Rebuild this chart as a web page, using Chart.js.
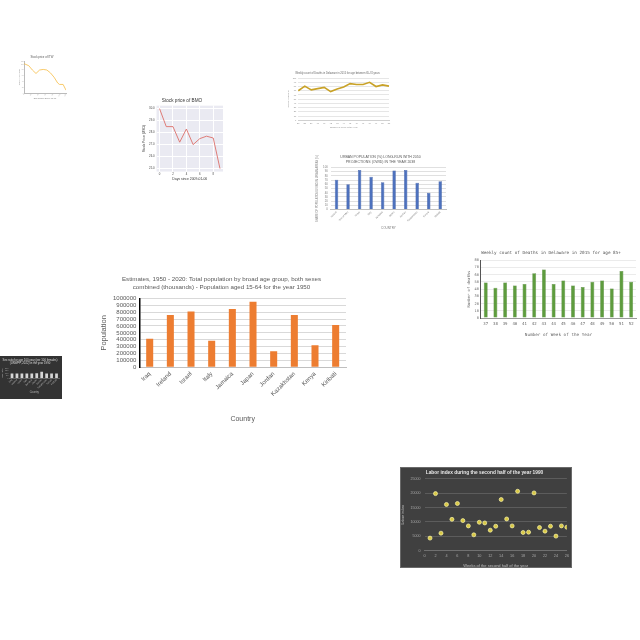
<!DOCTYPE html>
<html><head><meta charset="utf-8">
<script src="https://cdn.jsdelivr.net/npm/chart.js@4.4.1/dist/chart.umd.min.js"></script>
<style>
html,body{margin:0;padding:0;background:#fff;width:640px;height:640px;overflow:hidden;position:relative}
canvas{position:absolute;display:block}
</style></head><body>
<script>
// ---- data ----
const bigCountries = ['Iraq','Ireland','Israel','Italy','Jamaica','Japan','Jordan','Kazakhstan','Kenya','Kiribati'];
const bigValues = [415000,760000,810000,385000,845000,950000,235000,760000,320000,615000];
const bigYTicks = [0,1000000,100000];

const delWeeks = ['37','38','39','40','41','42','43','44','45','46','47','48','49','50','51','52'];
const delDeaths = [49,42,49,45,47,62,67,47,52,45,43,50,52,41,65,50];

const laborWeeks = [1,2,3,4,5,6,7,8,9,10,11,12,13,14,15,16,17,18,19,20,21,22,23,24,25,26];
const laborIndex = [4360,19840,6080,16060,10890,16400,10440,8600,5500,9860,9630,7110,8490,17780,11010,8600,20640,6310,6420,20070,8030,6770,8490,5050,8600,8140];

const urbanCountries = ['Ireland','Isle of Man','Israel','Italy','Jamaica','Japan','Jordan','Kazakhstan','Kenya','Kiribati'];
const urbanValues = [71,60,94,78,65,93,94,64,40,67];

const lineWeeks = ['37','38','39','40','41','42','43','44','45','46','47','48','49','50','51'];
const lineDeaths = [70,81,72,75,78,68,74,79,87,85,85,90,80,84,81];

const bmoDays = [0,1,2,3,4,5,6,7,8,9];
const bmoPrice = [30.0,28.5,28.5,27.2,28.3,27.0,27.5,27.7,27.55,25.0];

const itwDays = [0,13,23,33,43,53,63,73,83,93,98,108,116];
const itwPrice = [102,95,80,68,80,82,80,70,55,35,30,30,10];

const darkCats = ['Iraq','Ireland','Israel','Italy','Jamaica','Japan','Jordan','Kazakhstan','Kenya','Kiribati'];
const darkValues = [92,92,92,92,92,96,125,92,92,92];

// ---- setup ----
Chart.defaults.animation = false;
Chart.defaults.devicePixelRatio = 1;
Chart.defaults.plugins.legend.display = false;
Chart.defaults.plugins.tooltip.enabled = false;
Chart.defaults.font.family = "'Liberation Sans', Arial, sans-serif";
const MONO = "'DejaVu Sans Mono', monospace";

function mk(x,y,w,h){
  const c=document.createElement('canvas');
  c.width=w;c.height=h;
  c.style.left=x+'px';c.style.top=y+'px';c.style.width=w+'px';c.style.height=h+'px';
  document.body.appendChild(c);
  return c.getContext('2d');
}
const bgPlugin={id:'bg',beforeDraw(chart,args,opts){
  const ctx=chart.ctx;ctx.save();
  if(opts.canvas){ctx.fillStyle=opts.canvas;ctx.fillRect(0,0,chart.width,chart.height);}
  if(opts.frame){ctx.strokeStyle=opts.frame;ctx.lineWidth=1;ctx.strokeRect(0.5,0.5,chart.width-1,chart.height-1);}
  if(opts.area){const a=chart.chartArea;ctx.fillStyle=opts.area;ctx.fillRect(a.left,a.top,a.right-a.left,a.bottom-a.top);}
  ctx.restore();
}};
Chart.register(bgPlugin);
const base={responsive:false,maintainAspectRatio:false};
const plain=v=>String(v);
const noGridX={display:false,drawTicks:false};

// ---- big orange bar chart ----
new Chart(mk(92,270,270,158),{type:'bar',
 data:{labels:bigCountries,datasets:[{data:bigValues,backgroundColor:'#ED7D31',barPercentage:0.34,categoryPercentage:1}]},
 options:{...base,layout:{padding:{left:5,right:16,top:0,bottom:1}},
  plugins:{title:{display:true,text:['Estimates, 1950 - 2020: Total population by broad age group, both sexes','combined (thousands) - Population aged 15-64 for the year 1950'],color:'#595959',font:{size:6.2,lineHeight:1.32,weight:'normal'},padding:{top:5,bottom:7}}},
  scales:{
   x:{grid:noGridX,border:{color:'#bfbfbf'},ticks:{color:'#595959',font:{size:6},maxRotation:45,minRotation:45,autoSkip:false,padding:3},
      title:{display:true,text:'Country',color:'#595959',font:{size:7},padding:{top:14}}},
   y:{min:bigYTicks[0],max:bigYTicks[1],ticks:{stepSize:bigYTicks[2],color:'#595959',font:{size:6},padding:3,autoSkip:false,callback:plain},grid:{color:'#d9d9d9',drawTicks:false},
      border:{color:'#000',width:1.5},title:{display:true,text:'Population',color:'#595959',font:{size:7.5},padding:2}}}}});

// ---- Delaware green bars ----
new Chart(mk(466,246,174,97),{type:'bar',
 data:{labels:delWeeks,datasets:[{data:delDeaths,backgroundColor:'#5e9c3e',borderColor:'#447a2a',borderWidth:0.5,barPercentage:0.4,categoryPercentage:1}]},
 options:{...base,layout:{padding:{left:0,right:4,top:0,bottom:2}},
  plugins:{title:{display:true,text:'Weekly count of Deaths in Delaware in 2015 for age 85+',color:'#555',font:{family:MONO,size:4.3,weight:'normal'},padding:{top:4,bottom:5}}},
  scales:{
   x:{grid:noGridX,border:{color:'#999'},ticks:{color:'#666',font:{family:MONO,size:4},maxRotation:0,autoSkip:false,padding:4},
      title:{display:true,text:'Number of Week of the Year',color:'#666',font:{family:MONO,size:4.3},padding:{top:1}}},
   y:{min:0,max:80,ticks:{stepSize:10,color:'#666',font:{family:MONO,size:3.6},padding:2,autoSkip:false},grid:{color:'#ebebeb',drawTicks:false},
      border:{color:'#555',width:1},title:{display:true,text:'Number of deaths',color:'#666',font:{family:MONO,size:3.8},padding:1}}}}});

// ---- Labor index scatter ----
new Chart(mk(400,467,172,101),{type:'scatter',
 data:{datasets:[{data:laborWeeks.map((w,i)=>({x:w,y:laborIndex[i]})),backgroundColor:'#d9c845',borderColor:'rgba(250,245,170,0.7)',borderWidth:1,pointRadius:2}]},
 options:{...base,layout:{padding:{left:0,right:3,top:0,bottom:0}},
  plugins:{bg:{canvas:'#404040',frame:'#6a6a6a'},
   title:{display:true,text:'Labor index during the second half of the year 1990',color:'#e8e8e8',font:{size:4.8,weight:'bold'},padding:{top:3,bottom:3}}},
  scales:{
   x:{type:'linear',min:0,max:26,grid:noGridX,border:{color:'#707070'},ticks:{stepSize:2,color:'#a6a6a6',font:{size:3.8},padding:3,maxRotation:0,autoSkip:false},
      title:{display:true,text:'Weeks of the second half of the year',color:'#bfbfbf',font:{size:4},padding:{top:2,bottom:0}}},
   y:{min:0,max:25000,grid:{color:'#5c5c5c',drawTicks:false},border:{display:false},ticks:{stepSize:5000,color:'#a6a6a6',font:{size:3.6},padding:4,autoSkip:false,callback:plain},
      title:{display:true,text:'Labor index',color:'#bfbfbf',font:{size:3.8},padding:1}}}}});

// ---- Urban population bars ----
new Chart(mk(312,152,135,84),{type:'bar',
 data:{labels:urbanCountries,datasets:[{data:urbanValues,backgroundColor:'#4d71bd',borderColor:'#35539a',borderWidth:0.5,barPercentage:0.3,categoryPercentage:1}]},
 options:{...base,layout:{padding:{left:3,right:1,top:0,bottom:2}},
  plugins:{title:{display:true,text:['URBAN POPULATION (%) LONG-RUN WITH 2050','PROJECTIONS (OWID) IN THE YEAR 2038'],color:'#595959',font:{size:3.5,lineHeight:1.35,weight:'normal'},padding:{top:3,bottom:3}}},
  scales:{
   x:{grid:noGridX,border:{color:'#bfbfbf'},ticks:{color:'#7f7f7f',font:{size:2.6},maxRotation:45,minRotation:45,autoSkip:false,padding:1},
      title:{display:true,text:'COUNTRY',color:'#7f7f7f',font:{size:3},padding:{top:3}}},
   y:{min:0,max:100,ticks:{stepSize:10,color:'#7f7f7f',font:{size:2.8},padding:3,autoSkip:false},grid:{color:'#e0e0e0',drawTicks:false},
      border:{display:false},title:{display:true,text:'SHARE OF POPULATION LIVING IN URBAN AREAS (%)',color:'#7f7f7f',font:{size:2.6},padding:1}}}}});

// ---- Yellow line chart ----
new Chart(mk(284,68,115,66),{type:'line',
 data:{labels:lineWeeks,datasets:[{data:lineDeaths,borderColor:'#c9a227',borderWidth:1.6,pointRadius:0,tension:0}]},
 options:{...base,layout:{padding:{left:2,right:10,top:0,bottom:1}},
  plugins:{title:{display:true,text:'Weekly count of Deaths in Delaware in 2015 for age between 65-74 years',color:'#666',font:{size:2.6,weight:'normal'},padding:{top:4,bottom:3}}},
  scales:{
   x:{grid:noGridX,border:{color:'#d0d0d0'},ticks:{color:'#888',font:{size:2.2},maxRotation:0,autoSkip:false,padding:1.5},
      title:{display:true,text:'Number of Week of the Year',color:'#888',font:{size:2.2},padding:{top:0.5}}},
   y:{min:0,max:100,ticks:{stepSize:10,color:'#888',font:{size:2.2},padding:2,autoSkip:false},grid:{color:'#e6e6e6',drawTicks:false},
      border:{display:false},title:{display:true,text:'Number of deaths',color:'#888',font:{size:2.2},padding:1}}}}});

// ---- Stock price of BMO ----
new Chart(mk(140,95,92,90),{type:'line',
 data:{datasets:[{data:bmoDays.map((d,i)=>({x:d,y:bmoPrice[i]})),borderColor:'#dc6f6a',borderWidth:0.9,pointRadius:0,tension:0}]},
 options:{...base,layout:{padding:{left:1,right:9,top:0,bottom:0}},
  plugins:{bg:{area:'#eaeaf2'},title:{display:true,text:'Stock price of BMO',color:'#333',font:{size:4.7,weight:'normal'},padding:{top:3,bottom:2}}},
  scales:{
   x:{type:'linear',min:-0.45,max:9.45,grid:{color:'#ffffff',drawTicks:false},border:{display:false},
      ticks:{color:'#444',font:{size:2.8},padding:1,autoSkip:false},afterBuildTicks:s=>{s.ticks=[0,2,4,6,8].map(v=>({value:v}));},
      title:{display:true,text:'Days since 2009-01-06',color:'#333',font:{size:3.4},padding:{top:0}}},
   y:{min:24.75,max:30.25,grid:{color:'#ffffff',drawTicks:false},border:{display:false},
      ticks:{color:'#444',font:{size:2.8},padding:2,autoSkip:false,callback:v=>v.toFixed(1)},afterBuildTicks:s=>{s.ticks=[25,26,27,28,29,30].map(v=>({value:v}));},
      title:{display:true,text:'Stock Price (USD)',color:'#333',font:{size:3.4},padding:1}}}}});

// ---- Stock price (top-left) ----
new Chart(mk(17,54,53,50),{type:'line',
 data:{datasets:[{data:itwDays.map((d,i)=>({x:d,y:itwPrice[i]})),borderColor:'#f6bd45',borderWidth:0.8,pointRadius:0,tension:0}]},
 options:{...base,layout:{padding:{left:1,right:4,top:0,bottom:0}},
  plugins:{title:{display:true,text:'Stock price of ITW',color:'#555',font:{size:2.8,weight:'normal'},padding:{top:2,bottom:2}}},
  scales:{
   x:{type:'linear',min:0,max:116,grid:noGridX,border:{color:'#bbb'},ticks:{stepSize:20,color:'#aaa',font:{size:1.6},padding:0.5,autoSkip:false},
      title:{display:true,text:'Days since 2009-01-06',color:'#777',font:{size:2.2},padding:{top:0}}},
   y:{min:0,max:110,grid:{display:false,drawTicks:false},border:{color:'#bbb'},ticks:{stepSize:20,color:'#aaa',font:{size:1.6},padding:0.5,autoSkip:false},
      title:{display:true,text:'Stock Price (USD)',color:'#777',font:{size:2},padding:0}}}}});

// ---- Dark small bar chart ----
new Chart(mk(0,356,62,43),{type:'bar',
 data:{labels:darkCats,datasets:[{data:darkValues,backgroundColor:'#d6d6d6',barPercentage:0.55,categoryPercentage:1}]},
 options:{...base,layout:{padding:{left:1,right:3,top:0,bottom:1}},
  plugins:{bg:{canvas:'#333333'},title:{display:true,text:['Sex ratio for age 100 year (per 100 females)','(UNWPP, 2022) in the year 1990'],color:'#dddddd',font:{size:2.8,lineHeight:1.1,weight:'normal'},padding:{top:3,bottom:3}}},
  scales:{
   x:{grid:noGridX,border:{color:'#666'},ticks:{color:'#aaa',font:{size:2.4},maxRotation:45,minRotation:45,autoSkip:false,padding:0.5},
      title:{display:true,text:'Country',color:'#bbb',font:{size:2.6},padding:{top:1}}},
   y:{min:0,max:200,grid:{display:false,drawTicks:false},border:{display:false},ticks:{stepSize:50,color:'#999',font:{size:2.2},padding:1,autoSkip:false},
      title:{display:true,text:'Sex ratio',color:'#bbb',font:{size:2.4},padding:0}}}}});
</script>
</body></html>
